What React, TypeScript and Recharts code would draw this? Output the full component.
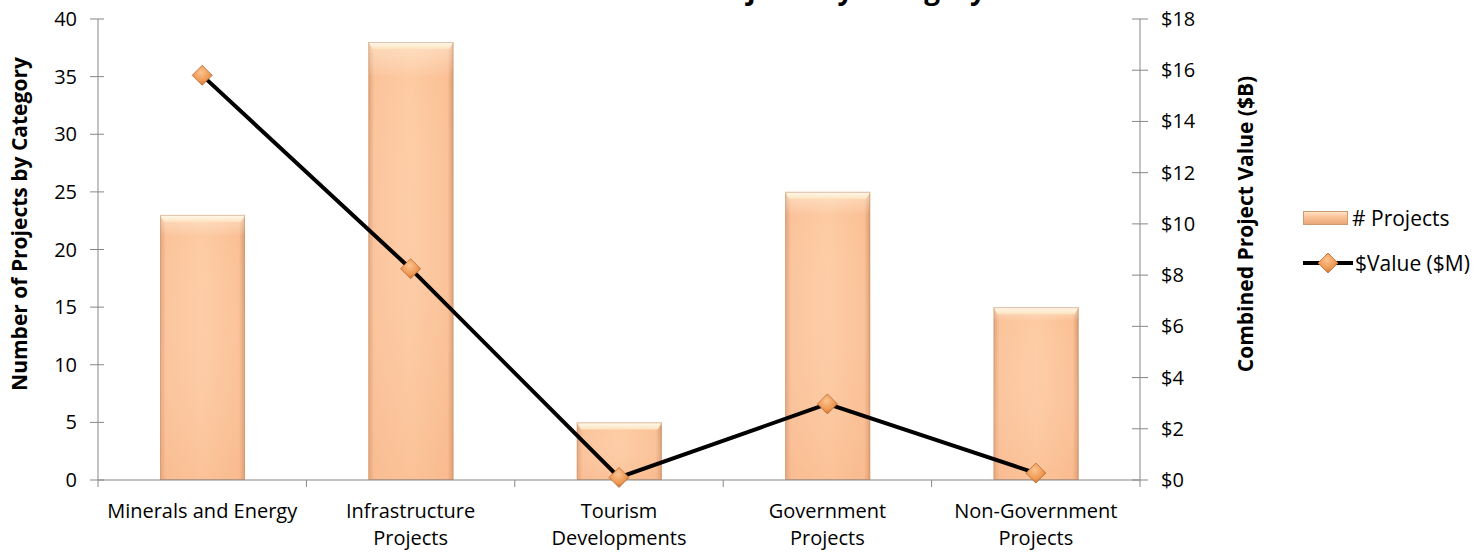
import React from "react";
import { ComposedChart, Bar, Line, XAxis, YAxis } from "recharts";

// Projects by category: count (left axis) and combined value in $B (right axis)
const CATEGORIES = [
  "Minerals and Energy",
  "Infrastructure Projects",
  "Tourism Developments",
  "Government Projects",
  "Non-Government Projects",
];
const TICK_LINES = [
  ["Minerals and Energy"],
  ["Infrastructure", "Projects"],
  ["Tourism", "Developments"],
  ["Government", "Projects"],
  ["Non-Government", "Projects"],
];
const PROJECT_COUNTS = [23, 38, 5, 25, 15];
const VALUES_B = [15.8, 8.25, 0.1, 2.97, 0.27];
const LEFT_TICKS = [0, 5, 10, 15, 20, 25, 30, 35, 40];
const RIGHT_TICKS = [0, 2, 4, 6, 8, 10, 12, 14, 16, 18];

const TITLE = "Number and Value of Projects by Category";
const LEFT_TITLE = "Number of Projects by Category";
const RIGHT_TITLE = "Combined Project Value ($B)";
const BAR_NAME = "# Projects";
const LINE_NAME = "$Value ($M)";

const DATA = CATEGORIES.map((c, i) => ({
  category: c,
  projects: PROJECT_COUNTS[i],
  value: VALUES_B[i],
}));

const FONT = "'Open Sans', sans-serif";
const AXIS = "#878787";
const FS = 20;
const W = 1479;
const H = 552;

function CategoryTick(props: any) {
  const { x, y, index, payload, width } = props;
  const band = (width || 1042) / CATEGORIES.length;
  const lines = TICK_LINES[index] ?? [String(payload.value)];
  const left = x - band / 2;
  const right = x + band / 2;
  return (
    <g>
      <line x1={left} x2={left} y1={y} y2={y + 7} stroke={AXIS} />
      {index === CATEGORIES.length - 1 && (
        <line x1={right} x2={right} y1={y} y2={y + 7} stroke={AXIS} />
      )}
      <text x={x} y={y} textAnchor="middle" fontFamily={FONT} fontSize={FS} fill="#000">
        {lines.map((l, i) => (
          <tspan key={i} x={x} dy={i === 0 ? 38 : 27}>
            {l}
          </tspan>
        ))}
      </text>
    </g>
  );
}

function LeftTick(props: any) {
  const { x, y, payload } = props;
  return (
    <g>
      <line x1={x - 8} x2={x + 6} y1={y} y2={y} stroke={AXIS} />
      <text x={x - 21} y={y} dy={7} textAnchor="end" fontFamily={FONT} fontSize={FS} fill="#000">
        {payload.value}
      </text>
    </g>
  );
}

function RightTick(props: any) {
  const { x, y, payload } = props;
  return (
    <g>
      <line x1={x - 8} x2={x + 8} y1={y} y2={y} stroke={AXIS} />
      <text x={x + 21} y={y} dy={7} textAnchor="start" fontFamily={FONT} fontSize={FS} fill="#000">
        {`$${payload.value}`}
      </text>
    </g>
  );
}

function BarShape(props: any) {
  const { x, y, width, height } = props;
  if (!height || height <= 0) return null;
  const bev = Math.min(7, height / 3);
  return (
    <g>
      <rect x={x} y={y} width={width} height={height} fill="url(#barBody)" />
      <rect x={x} y={y} width={width} height={height} fill="url(#barShade)" />
      <polygon
        points={`${x},${y} ${x + width},${y} ${x + width - 4},${y + bev} ${x + 4},${y + bev}`}
        fill="url(#barTop)"
      />
      <rect x={x + 0.5} y={y + 0.5} width={width - 1} height={height - 1} fill="none" stroke="#c99873" strokeOpacity={0.55} />
    </g>
  );
}

function Diamond(props: any) {
  const { cx, cy } = props;
  if (cx == null || cy == null) return null;
  const r = 10;
  return (
    <polygon
      points={`${cx},${cy - r} ${cx + r},${cy} ${cx},${cy + r} ${cx - r},${cy}`}
      fill="url(#diamondFill)"
      stroke="#b86a35"
      strokeWidth={0.8}
    />
  );
}

function AxisTitle({ cx, cy, text }: { cx: number; cy: number; text: string }) {
  return (
    <text
      x={cx}
      y={cy}
      transform={`rotate(-90, ${cx}, ${cy})`}
      textAnchor="middle"
      dominantBaseline="central"
      fontFamily={FONT}
      fontWeight={700}
      fontSize={21}
      fill="#000"
    >
      {text}
    </text>
  );
}

export default function App() {
  return (
    <div style={{ position: "absolute", left: 0, top: 0, width: W, height: H, background: "#fff" }}>
      <ComposedChart
        width={W}
        height={H}
        data={DATA}
        margin={{ top: 19, right: 219, bottom: 0, left: 0 }}
      >
        <defs>
          <linearGradient id="barBody" x1="0" y1="0" x2="1" y2="0">
            <stop offset="0%" stopColor="#e2a379" />
            <stop offset="7%" stopColor="#fbc39a" />
            <stop offset="50%" stopColor="#fdcba3" />
            <stop offset="93%" stopColor="#fbc095" />
            <stop offset="100%" stopColor="#d99a6e" />
          </linearGradient>
          <linearGradient id="barShade" x1="0" y1="0" x2="0" y2="1">
            <stop offset="0%" stopColor="#fff3dc" stopOpacity={0.5} />
            <stop offset="8%" stopColor="#ffffff" stopOpacity={0} />
            <stop offset="100%" stopColor="#f4a878" stopOpacity={0.25} />
          </linearGradient>
          <linearGradient id="barTop" x1="0" y1="0" x2="0" y2="1">
            <stop offset="0%" stopColor="#fffaf0" />
            <stop offset="100%" stopColor="#fde3bf" />
          </linearGradient>
          <radialGradient id="diamondFill" cx="45%" cy="35%" r="70%">
            <stop offset="0%" stopColor="#fcc38f" />
            <stop offset="60%" stopColor="#ef9a55" />
            <stop offset="100%" stopColor="#c46b2e" />
          </radialGradient>
        </defs>
        <XAxis
          dataKey="category"
          xAxisId="x"
          height={72}
          stroke={AXIS}
          tickLine={false}
          tickSize={0}
          tickMargin={0}
          interval={0}
          tick={<CategoryTick />}
        />
        <YAxis
          yAxisId="left"
          orientation="left"
          width={98}
          domain={[0, 40]}
          ticks={LEFT_TICKS}
          stroke={AXIS}
          tickLine={false}
          tickSize={0}
          tickMargin={0}
          tick={<LeftTick />}
          label={<AxisTitle cx={19} cy={224} text={LEFT_TITLE} />}
        />
        <YAxis
          yAxisId="right"
          orientation="right"
          width={120}
          domain={[0, 18]}
          ticks={RIGHT_TICKS}
          stroke={AXIS}
          tickLine={false}
          tickSize={0}
          tickMargin={0}
          tick={<RightTick />}
          label={<AxisTitle cx={1245} cy={224} text={RIGHT_TITLE} />}
        />
        <Bar
          dataKey="projects"
          name={BAR_NAME}
          xAxisId="x"
          yAxisId="left"
          barSize={85}
          shape={<BarShape />}
          isAnimationActive={false}
        />
        <Line
          dataKey="value"
          name={LINE_NAME}
          xAxisId="x"
          yAxisId="right"
          type="linear"
          stroke="#000"
          strokeWidth={4}
          dot={<Diamond />}
          activeDot={false}
          isAnimationActive={false}
        />
      </ComposedChart>

      {/* title sits mostly above the visible area, only descenders show */}
      <svg width={W} height={H} style={{ position: "absolute", left: 0, top: 0, pointerEvents: "none" }}>
        <text x={986} y={-1} textAnchor="end" fontFamily={FONT} fontWeight={700} fontSize={28} fill="#000">
          {TITLE}
        </text>
      </svg>

      <div style={{ position: "absolute", left: 1303, top: 205, fontFamily: FONT, fontSize: 21, color: "#000" }}>
        <div style={{ display: "flex", alignItems: "center", height: 26 }}>
          <svg width={46} height={14}>
            <rect x={0.5} y={0.5} width={44} height={13} fill="url(#legendBar)" stroke="#d09a70" strokeWidth={1} />
            <defs>
              <linearGradient id="legendBar" x1="0" y1="0" x2="0" y2="1">
                <stop offset="0%" stopColor="#fde7c8" />
                <stop offset="40%" stopColor="#fbc49a" />
                <stop offset="100%" stopColor="#e9a577" />
              </linearGradient>
            </defs>
          </svg>
          <span style={{ marginLeft: 3 }}>{BAR_NAME}</span>
        </div>
        <div style={{ display: "flex", alignItems: "center", height: 26, marginTop: 19 }}>
          <svg width={50} height={22}>
            <line x1={0} y1={11} x2={50} y2={11} stroke="#000" strokeWidth={4} />
            <polygon points="25,1 35,11 25,21 15,11" fill="url(#diamondLegend)" stroke="#b86a35" strokeWidth={0.8} />
            <defs>
              <radialGradient id="diamondLegend" cx="45%" cy="35%" r="70%">
                <stop offset="0%" stopColor="#fcc38f" />
                <stop offset="60%" stopColor="#ef9a55" />
                <stop offset="100%" stopColor="#c46b2e" />
              </radialGradient>
            </defs>
          </svg>
          <span style={{ marginLeft: 2 }}>{LINE_NAME}</span>
        </div>
      </div>
    </div>
  );
}
